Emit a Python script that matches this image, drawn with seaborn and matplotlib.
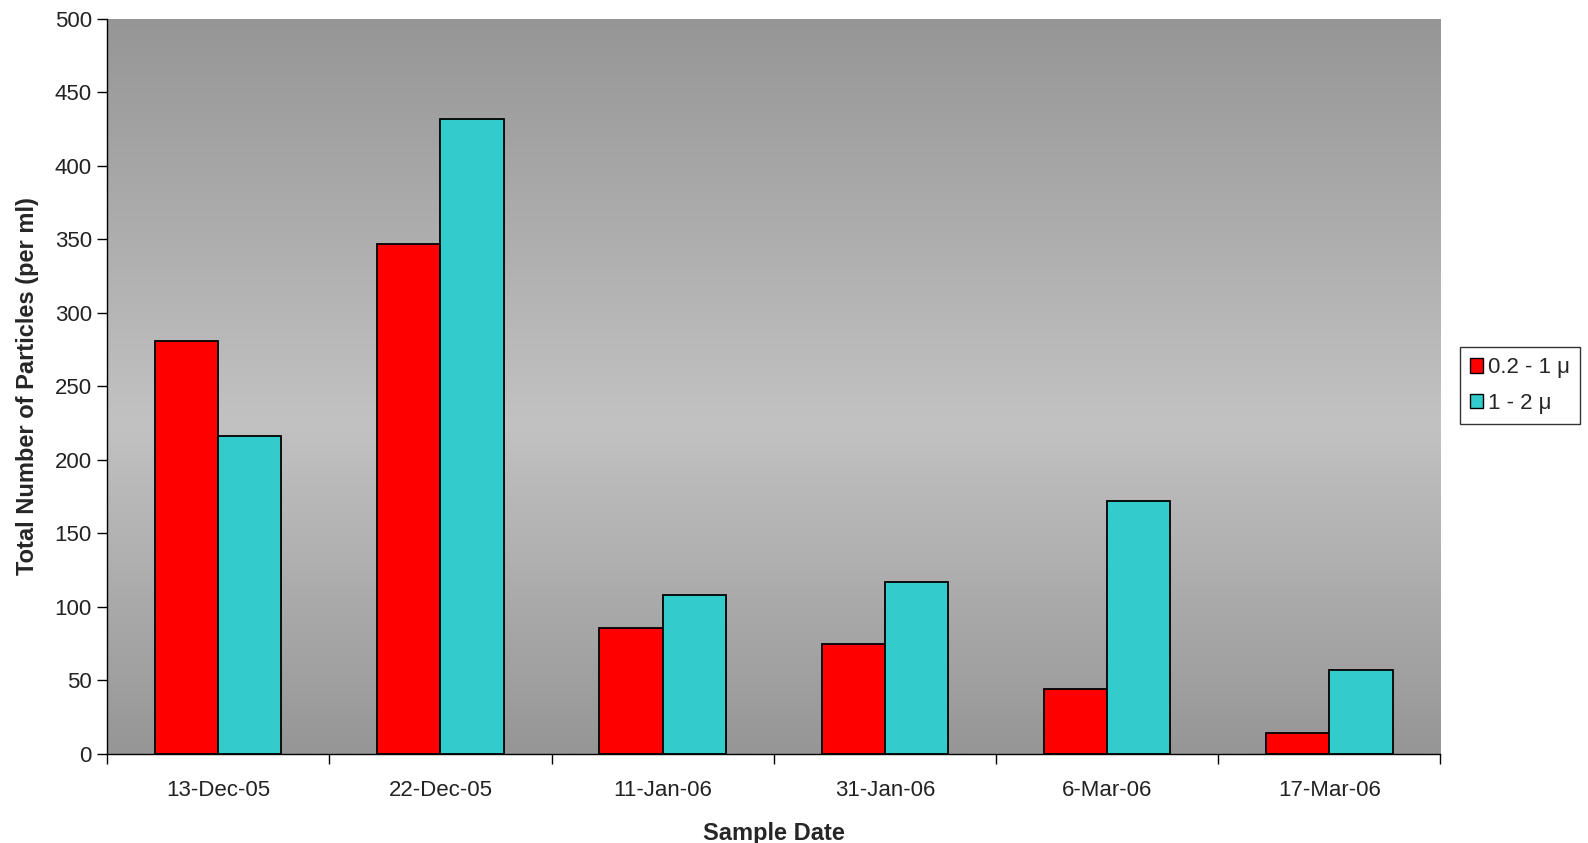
import numpy as np
import pandas as pd
import matplotlib
matplotlib.use("Agg")
import matplotlib.pyplot as plt
from matplotlib.colors import LinearSegmentedColormap
from matplotlib.patches import Patch
from matplotlib.ticker import FixedLocator, NullFormatter
import seaborn as sns

# Sample dates and particle counts per size class
dates = ["13-Dec-05", "22-Dec-05", "11-Jan-06", "31-Jan-06", "6-Mar-06", "17-Mar-06"]
small_particles = [281, 347, 86, 75, 44, 14.5]     # 0.2 - 1 µ
large_particles = [216, 432, 108, 117, 172, 57]    # 1 - 2 µ
series_names = ["0.2 - 1 \u03bc", "1 - 2 \u03bc"]
series_colors = ["#FF0000", "#33CCCC"]
y_ticks = [0, 50, 100, 150, 200, 250, 300, 350, 400, 450, 500]

df = pd.DataFrame({
    "date": dates * 2,
    "count": small_particles + large_particles,
    "size": [series_names[0]] * len(dates) + [series_names[1]] * len(dates),
})

sns.set_theme(style="white")
plt.rcParams["font.family"] = ["Liberation Sans", "DejaVu Sans"]

fig = plt.figure(figsize=(15.88, 8.43), dpi=100)
ax = fig.add_axes([0.0674, 0.1056, 0.8397, 0.8722])

sns.barplot(data=df, x="date", y="count", hue="size", order=dates,
            hue_order=series_names, palette=series_colors, width=0.57,
            edgecolor="black", linewidth=1.3, saturation=1, ax=ax,
            legend=False, zorder=2)

ax.set_xlim(-0.5, len(dates) - 0.5)
ax.set_ylim(0, 500)

# Vertical grey gradient behind the bars: dark top, light middle, dark bottom
grad_cmap = LinearSegmentedColormap.from_list(
    "plotarea", [(0.0, "#969696"), (0.55, "#C2C2C2"), (1.0, "#969696")])
grad = np.linspace(0, 1, 256).reshape(-1, 1)
ax.imshow(grad, cmap=grad_cmap, aspect="auto", origin="upper",
          extent=[-0.5, len(dates) - 0.5, 0, 500], zorder=0)

# Axes styling
for side in ["top", "right"]:
    ax.spines[side].set_visible(False)
for side in ["left", "bottom"]:
    ax.spines[side].set_color("black")
    ax.spines[side].set_linewidth(1.0)

ax.set_yticks(y_ticks)
ax.tick_params(axis="y", which="major", direction="out", length=7, width=1,
               color="black", labelsize=16, pad=4, left=True)
ax.tick_params(axis="x", which="major", length=0, labelsize=16, pad=19)
ax.xaxis.set_minor_locator(FixedLocator(np.arange(-0.5, len(dates), 1.0)))
ax.xaxis.set_minor_formatter(NullFormatter())
ax.tick_params(axis="x", which="minor", direction="out", length=7, width=1,
               color="black", bottom=True)
for lbl in ax.get_xticklabels() + ax.get_yticklabels():
    lbl.set_color("#222222")

ax.set_xlabel("Sample Date", fontsize=17, fontweight="bold", labelpad=15)
ax.set_ylabel("Total Number of Particles (per ml)", fontsize=17,
              fontweight="bold", labelpad=11)

handles = [Patch(facecolor=c, edgecolor="black", linewidth=1.0)
           for c in series_colors]
leg = fig.legend(handles, series_names, loc="upper left",
                 bbox_to_anchor=(0.9195, 0.588), frameon=True, fancybox=False,
                 fontsize=16, handlelength=0.6, handleheight=0.6,
                 handletextpad=0.2, borderpad=0.45, labelspacing=0.65,
                 borderaxespad=0)
leg.get_frame().set_edgecolor("black")
leg.get_frame().set_linewidth(1.0)
leg.get_frame().set_facecolor("white")

fig.savefig("out.png", dpi=100, facecolor="white")
